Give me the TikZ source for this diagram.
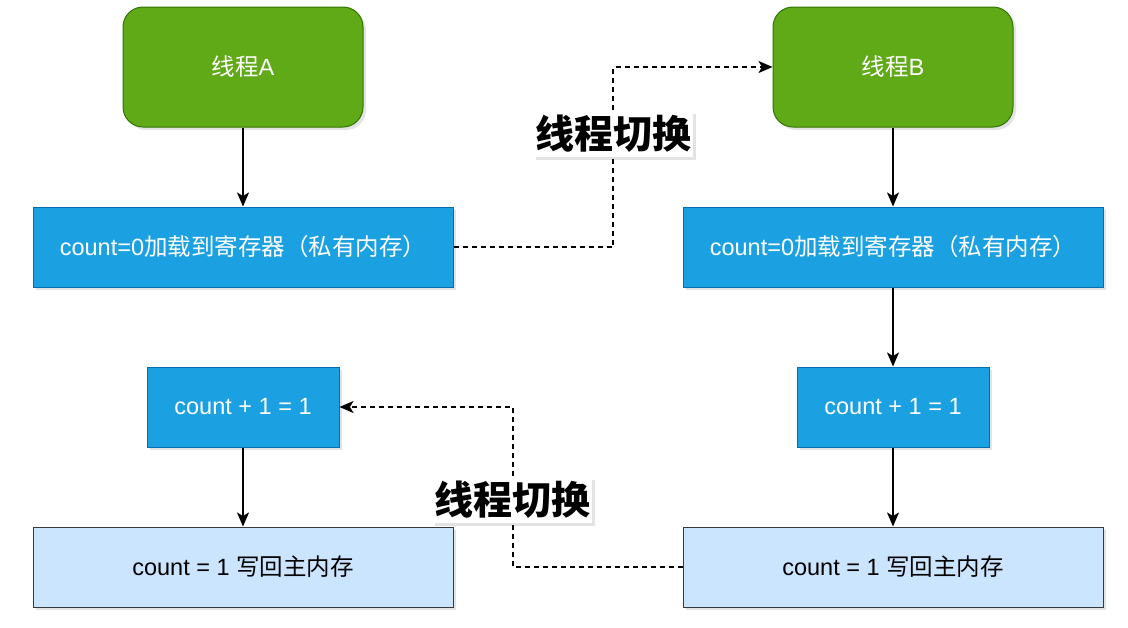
\documentclass[tikz,border=0pt]{standalone}
\usepackage{fontspec}
\setmainfont{Liberation Sans}
\newfontfamily\cjk{Noto Sans CJK SC}
\usetikzlibrary{arrows.meta,shadows}
\definecolor{grn}{HTML}{60A917}
\definecolor{grnb}{HTML}{2D7600}
\definecolor{blu}{HTML}{1BA1E2}
\definecolor{blub}{HTML}{006EAF}
\definecolor{lblu}{HTML}{CCE5FF}
\definecolor{lblub}{HTML}{36393D}
\tikzset{
  shd/.style={drop shadow={shadow xshift=3pt,shadow yshift=-3pt,opacity=0.18,fill=black!60}},
  thread/.style={shd,draw=grnb,fill=grn,rounded corners=20pt,minimum width=240pt,minimum height=120pt,text=white,font=\fontsize{23.5}{28}\selectfont,inner sep=0pt,line width=1pt},
  bbox/.style={shd,draw=blub,fill=blu,minimum height=80pt,text=white,font=\fontsize{23.5}{28}\selectfont,inner sep=0pt,line width=1pt},
  lbox/.style={shd,draw=lblub,fill=lblu,minimum height=80pt,minimum width=420pt,text=black,font=\fontsize{23.5}{28}\selectfont,inner sep=0pt,line width=1pt},
  arr/.style={draw=black,line width=1.4pt,-{Stealth[length=14pt,width=12pt,inset=3.5pt]}},
  darr/.style={draw=black,line width=1.3pt,dash pattern=on 5pt off 4pt,-{Stealth[length=14pt,width=12pt,inset=3.5pt]}},
  swlabel/.style={shd,fill=white,text=black,font=\cjk\bfseries\fontsize{39}{44}\selectfont,inner xsep=2pt,inner ysep=4pt}
}
\begin{document}
\begin{tikzpicture}[x=1pt,y=-1pt]
\useasboundingbox (0,0) rectangle (1128,627);
\node[thread] (ta) at (243,67) {{\cjk 线程}A};
\node[thread] (tb) at (893,67) {{\cjk 线程}B};
\node[bbox,minimum width=420pt] (a1) at (243,247) {count=0{\cjk 加载到寄存器（私有内存）}};
\node[bbox,minimum width=420pt] (b1) at (893,247) {count=0{\cjk 加载到寄存器（私有内存）}};
\node[bbox,minimum width=192pt] (a2) at (243,407) {count + 1 = 1};
\node[bbox,minimum width=192pt] (b2) at (893,407) {count + 1 = 1};
\node[lbox] (a3) at (243,567) {count = 1 {\cjk 写回主内存}};
\node[lbox] (b3) at (893,567) {count = 1 {\cjk 写回主内存}};
\draw[arr] (ta) -- (a1);
\draw[arr] (tb) -- (b1);
\draw[arr] (b1) -- (b2);
\draw[arr] (a2) -- (a3);
\draw[arr] (b2) -- (b3);
\coordinate (k1) at (613,247);
\coordinate (k2) at (613,67);
\coordinate (k3) at (513,567);
\coordinate (k4) at (513,407);
\draw[darr] (a1.east) -- (k1) -- (k2) -- (tb.west);
\draw[darr] (b3.west) -- (k3) -- (k4) -- (a2.east);
\node[swlabel] (s1) at (613,134) {线程切换};
\node[swlabel] (s2) at (512,500) {线程切换};
\end{tikzpicture}
\end{document}
